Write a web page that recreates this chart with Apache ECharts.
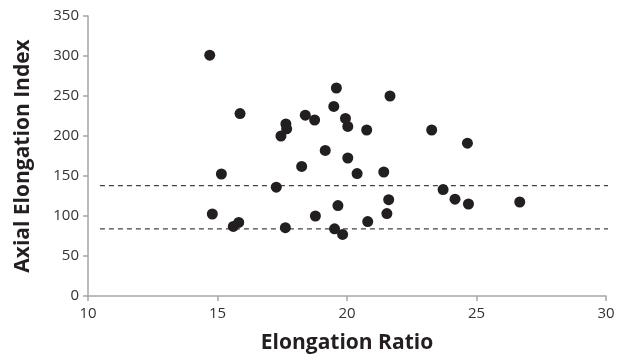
<!DOCTYPE html>
<html><head><meta charset="utf-8">
<script src="https://cdn.jsdelivr.net/npm/echarts@6/dist/echarts.min.js"></script>
<style>html,body{margin:0;padding:0;background:#fff}#c{width:628px;height:362px}</style>
</head><body><div id="c"></div>
<script>
var elongationRatio = [14.7,15.87,17.45,17.64,17.67,18.39,18.75,18.25,15.15,19.59,21.66,19.49,19.94,20.03,20.76,23.27,24.65,19.16,20.03,20.39,21.42,17.27,14.8,15.61,15.82,17.62,18.78,23.71,24.17,24.69,26.67,19.65,21.61,21.54,20.8,19.52,19.83];
var axialIndex = [301,228,200,215,209,226,220,162,152.5,260,250,237,222,212,207.5,207.5,191,182,172.5,153,155,136,102.5,87,92,85.4,100,133,121,115,117.5,113,120.4,103,93,84,77];
var thresholds = [138, 84];
var thresholdSpan = [10.46, 30.46];
var xTicks = {min: 10, max: 30, interval: 5};
var yTicks = {min: 0, max: 350, interval: 50};

var pts = elongationRatio.map(function(x,i){return [x, axialIndex[i]];});
var series = [{
  type:'scatter', data: pts, symbolSize: 11,
  itemStyle:{color:'#231f20', opacity:1}, z:3
}];
thresholds.forEach(function(t){
  series.push({
    type:'line', clip:false, symbol:'none', silent:true,
    data: thresholdSpan.map(function(x){return [x,t];}),
    lineStyle:{color:'#444', width:1.3, type:[5,4]}, z:2
  });
});
var font = '"Open Sans", Lato, sans-serif';
var chart = echarts.init(document.getElementById('c'));
chart.setOption({
  animation:false,
  grid:{left:88,right:22,top:16,bottom:66},
  xAxis:{type:'value', min:xTicks.min, max:xTicks.max, interval:xTicks.interval,
    name:'Elongation Ratio', nameLocation:'middle', nameGap:37,
    nameTextStyle:{fontFamily:font, fontWeight:'bold', fontSize:21, color:'#231f20'},
    axisLine:{lineStyle:{color:'#a6a6a6', width:1.5}},
    axisTick:{show:true, length:5, lineStyle:{color:'#a6a6a6', width:1.5}},
    axisLabel:{fontFamily:font, fontSize:15, color:'#333', margin:10},
    splitLine:{show:false}},
  yAxis:{type:'value', min:yTicks.min, max:yTicks.max, interval:yTicks.interval,
    name:'Axial Elongation Index', nameLocation:'middle', nameGap:54,
    nameTextStyle:{fontFamily:font, fontWeight:'bold', fontSize:21, color:'#231f20'},
    axisLine:{show:true, lineStyle:{color:'#a6a6a6', width:1.5}},
    axisTick:{show:true, length:5, lineStyle:{color:'#a6a6a6', width:1.5}},
    axisLabel:{fontFamily:font, fontSize:15, color:'#333', margin:9},
    splitLine:{show:false}},
  series: series
});
</script></body></html>
